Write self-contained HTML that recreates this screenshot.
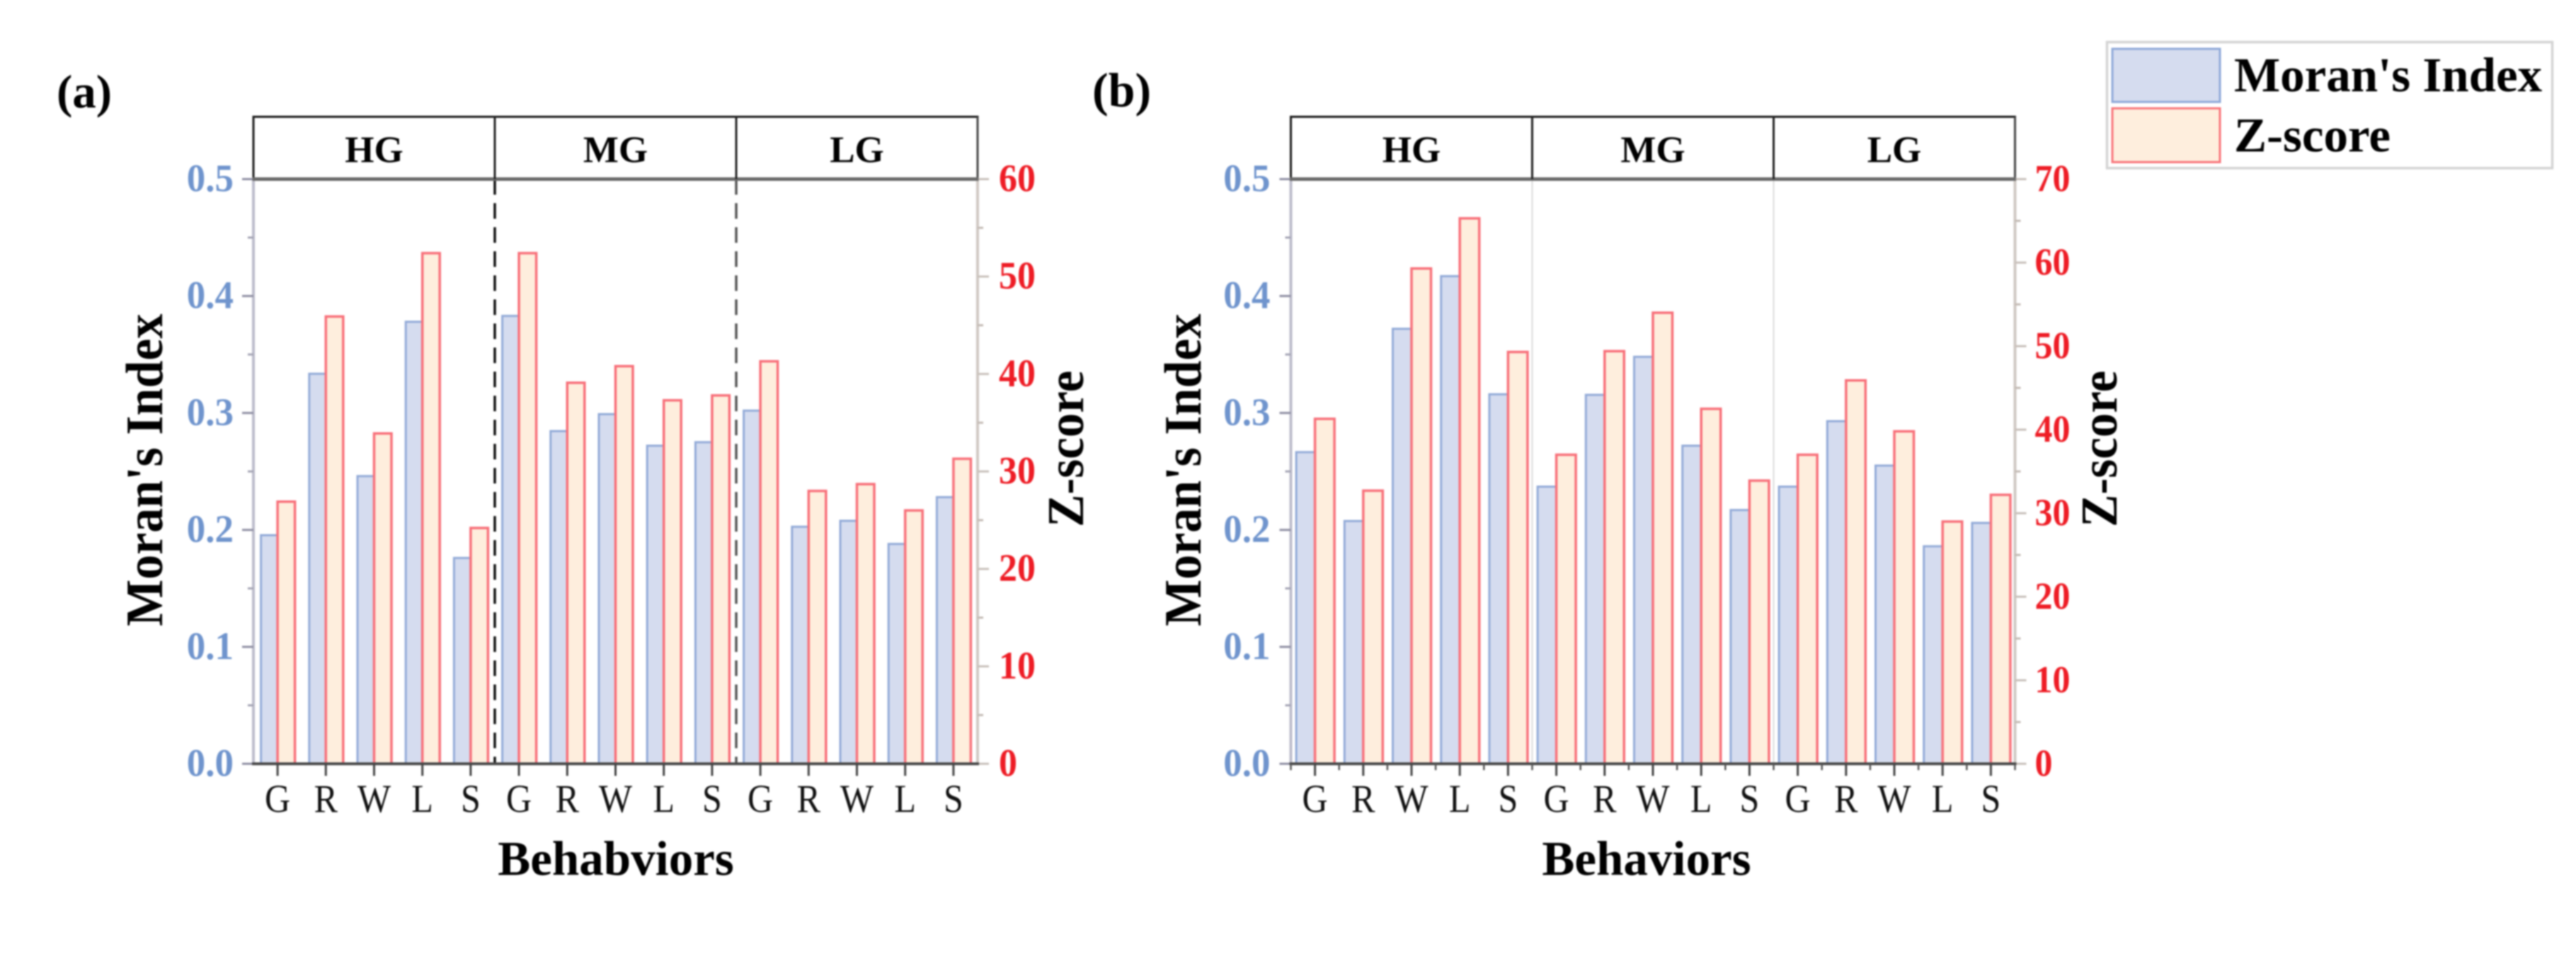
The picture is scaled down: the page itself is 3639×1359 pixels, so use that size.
<!DOCTYPE html>
<html lang="en">
<head>
<meta charset="utf-8">
<title>Moran's Index and Z-score by behavior</title>
<style>
html,body{margin:0;padding:0;background:#fff;width:3639px;height:1359px;overflow:hidden}
svg{display:block;filter:blur(1px)}
text{font-family:"Liberation Serif",serif}
.b{font-weight:bold}
</style>
</head>
<body>
<svg id="figure" xmlns="http://www.w3.org/2000/svg" width="3639" height="1359" viewBox="0 0 3639 1359">
  <rect width="3639" height="1359" fill="#fff"/>

  <text class="b" x="80" y="152" font-size="67">(a)</text>
  <text class="b" x="1543" y="150" font-size="68">(b)</text>

  <text class="b" transform="translate(229 664) rotate(-90) scale(1 1.06)" text-anchor="middle" font-size="70">Moran's Index</text>
  <text class="b" transform="translate(1530 634) rotate(-90) scale(1 1.06)" text-anchor="middle" font-size="69">Z-score</text>
  <text class="b" x="870" y="1236" text-anchor="middle" font-size="69">Behabviors</text>

  <text class="b" transform="translate(1696 664) rotate(-90) scale(1 1.06)" text-anchor="middle" font-size="70">Moran's Index</text>
  <text class="b" transform="translate(2990 634) rotate(-90) scale(1 1.06)" text-anchor="middle" font-size="69">Z-score</text>
  <text class="b" x="2326" y="1236" text-anchor="middle" font-size="69">Behaviors</text>

  <g id="panel-a"></g>
  <g id="panel-b"></g>

  <g>
    <rect x="2976.5" y="59.5" width="629" height="178" fill="#fff" stroke="#d4d4d4" stroke-width="3.5"/>
    <rect x="2984" y="69" width="152" height="75" fill="#d5dcef" stroke="#8fa9d8" stroke-width="3"/>
    <text class="b" x="3156" y="129" font-size="69">Moran's Index</text>
    <rect x="2984" y="153" width="152" height="76" fill="#feeedd" stroke="#f8747a" stroke-width="3"/>
    <text class="b" x="3156" y="214" font-size="69">Z-score</text>
  </g>
</svg>

<script>
const categories = ['G','R','W','L','S','G','R','W','L','S','G','R','W','L','S'];
const groupLabels = ['HG','MG','LG'];

const moranTicks = [0.0,0.1,0.2,0.3,0.4,0.5];
const moranMinorTicks = [0.05,0.15,0.25,0.35,0.45];

const moranA = [0.1955,0.3335,0.246,0.378,0.176,0.383,0.2845,0.299,0.272,0.275,0.302,0.2027,0.2078,0.188,0.228];
const zscoreA = [26.9,45.9,33.9,52.4,24.2,52.4,39.1,40.8,37.3,37.8,41.3,28,28.7,26,31.3];
const zTicksA = [0,10,20,30,40,50,60];
const zMinorTicksA = [5,15,25,35,45,55];

const moranB = [0.2665,0.2076,0.372,0.417,0.316,0.237,0.3155,0.348,0.272,0.217,0.237,0.293,0.255,0.186,0.206];
const zscoreB = [41.3,32.7,59.3,65.3,49.3,37,49.4,54,42.5,33.9,37,45.9,39.8,29,32.2];
const zTicksB = [0,10,20,30,40,50,60,70];
const zMinorTicksB = [5,15,25,35,45,55,65];

const SVGNS = 'http://www.w3.org/2000/svg';
const plotTop = 253, plotBottom = 1079, headerTop = 165;

function shape(parent, tag, attrs, txt) {
  const el = document.createElementNS(SVGNS, tag);
  for (const k in attrs) el.setAttribute(k, attrs[k]);
  if (txt !== undefined) el.textContent = txt;
  parent.appendChild(el);
  return el;
}

function drawPanel(g, left, right, moran, zscore, zTicks, zMinor, zMax, halfBlue, halfRed, style) {
  const width = right - left;
  const step = width / categories.length;
  const xCenter = i => left + step * (i + 0.5);
  const yMoran = v => plotBottom - (v / 0.5) * (plotBottom - plotTop);
  const yZ = v => plotBottom - (v / zMax) * (plotBottom - plotTop);

  // bars
  categories.forEach((c, i) => {
    const cx = xCenter(i);
    const blue = shape(g, 'rect', {x: cx - halfBlue, y: yMoran(moran[i]), width: halfBlue, height: plotBottom - yMoran(moran[i]), fill: '#d5dcef', stroke: '#93abd8', 'stroke-width': 3});
    
    
    const red = shape(g, 'rect', {x: cx, y: yZ(zscore[i]), width: halfRed, height: plotBottom - yZ(zscore[i]), fill: '#feeedd', stroke: '#f8707a', 'stroke-width': 3.5});
    
    
  });

  // group separators in plot area
  [1, 2].forEach(k => {
    const x = left + width * k / 3;
    const sep = shape(g, 'line', {x1: x, x2: x, y1: plotTop, y2: plotBottom, stroke: style.sepColors[k - 1], 'stroke-width': style.sepWidth, 'stroke-dasharray': style.sepDash});
    
    
  });

  // left axis
  const la = shape(g, 'line', {x1: left, x2: left, y1: plotTop, y2: plotBottom, stroke: '#bcbccb', 'stroke-width': 4});
  
  
  moranTicks.forEach(v => {
    const t = shape(g, 'line', {x1: left - 16, x2: left, y1: yMoran(v), y2: yMoran(v), stroke: '#8f8fa3', 'stroke-width': 3});
    
    
    const lbl = shape(g, 'text', {transform: 'translate(' + (left + style.leftLabelDx) + ' ' + (yMoran(v) + 17) + ') scale(1 1.04)', 'text-anchor': 'end', 'font-size': 53, 'font-weight': 'bold', fill: '#6f94cd'}, v.toFixed(1));
    
    
  });
  moranMinorTicks.forEach(v => {
    const t = shape(g, 'line', {x1: left - 8, x2: left, y1: yMoran(v), y2: yMoran(v), stroke: '#a5a5b5', 'stroke-width': 3});
    
    
  });

  // right axis
  const ra = shape(g, 'line', {x1: right, x2: right, y1: plotTop, y2: plotBottom, stroke: '#cfc8c3', 'stroke-width': 4});
  
  
  zTicks.forEach(v => {
    const t = shape(g, 'line', {x1: right, x2: right + 16, y1: yZ(v), y2: yZ(v), stroke: '#c9c1bb', 'stroke-width': 3});
    
    
    const lbl = shape(g, 'text', {transform: 'translate(' + (right + style.rightLabelDx) + ' ' + (yZ(v) + 17) + ') scale(1 ' + style.rightLabelStretch + ')', 'font-size': style.rightLabelSize, 'font-weight': 'bold', fill: '#ee1c25'}, String(v));
    
    
  });
  zMinor.forEach(v => {
    const t = shape(g, 'line', {x1: right, x2: right + 8, y1: yZ(v), y2: yZ(v), stroke: '#c4bbb5', 'stroke-width': 3});
    
    
  });

  // x axis
  const xa = shape(g, 'line', {x1: left - 2, x2: right + 2, y1: plotBottom, y2: plotBottom, stroke: '#4a4a4a', 'stroke-width': 4});
  
  
  categories.forEach((c, i) => {
    const x = xCenter(i);
    const t = shape(g, 'line', {x1: x, x2: x, y1: plotBottom, y2: plotBottom + 17, stroke: '#444', 'stroke-width': 3});
    
    
    const lbl = shape(g, 'text', {transform: 'translate(' + x + ' 1147) scale(1 1.12)', 'text-anchor': 'middle', 'font-size': 50, fill: '#111'}, c);
    
    
  });
  if (style.minorX) {
    for (let i = 0; i <= categories.length; i++) {
      const x = left + step * i;
      const t = shape(g, 'line', {x1: x, x2: x, y1: plotBottom, y2: plotBottom + 9, stroke: '#555', 'stroke-width': 2.5});
      
      
    }
  }

  // header strip
  const head = shape(g, 'rect', {x: left, y: headerTop, width: width, height: plotTop - headerTop, fill: '#fff', stroke: 'none'});
  
  
  const ht = shape(g, 'line', {x1: left - 1.5, x2: right + 1.5, y1: headerTop, y2: headerTop, stroke: '#1a1a1a', 'stroke-width': 3});
  
  
  const hl = shape(g, 'line', {x1: left, x2: left, y1: headerTop, y2: plotTop, stroke: '#1a1a1a', 'stroke-width': 3});
  
  
  const hr = shape(g, 'line', {x1: right, x2: right, y1: headerTop, y2: plotTop, stroke: '#444', 'stroke-width': 3});
  
  
  const hb = shape(g, 'line', {x1: left - 1.5, x2: right + 1.5, y1: plotTop, y2: plotTop, stroke: '#6a6a6a', 'stroke-width': 5});
  
  
  [1, 2].forEach(k => {
    const x = left + width * k / 3;
    const d = shape(g, 'line', {x1: x, x2: x, y1: headerTop, y2: plotTop, stroke: '#222', 'stroke-width': 3});
    
    
  });
  groupLabels.forEach((lab, k) => {
    const x = left + width * (k + 0.5) / 3;
    const t = shape(g, 'text', {x: x, y: 229, 'text-anchor': 'middle', 'font-size': 53, 'font-weight': 'bold', fill: '#000'}, lab);
    
    
  });
}

drawPanel(document.getElementById('panel-a'), 358, 1381, moranA, zscoreA, zTicksA, zMinorTicksA, 60, 23.5, 24.5, {
  sepColors: ['#111', '#555'], sepWidth: 3.5, sepDash: '22 12',
  leftLabelDx: -28, rightLabelDx: 30, rightLabelSize: 52, rightLabelStretch: 1.05, minorX: false
});
drawPanel(document.getElementById('panel-b'), 1823.5, 2846.5, moranB, zscoreB, zTicksB, zMinorTicksB, 70, 26.5, 27.5, {
  sepColors: ['#dcdcdc', '#dcdcdc'], sepWidth: 2, sepDash: 'none',
  leftLabelDx: -29, rightLabelDx: 28, rightLabelSize: 50, rightLabelStretch: 1.09, minorX: true
});
</script>
</body>
</html>
